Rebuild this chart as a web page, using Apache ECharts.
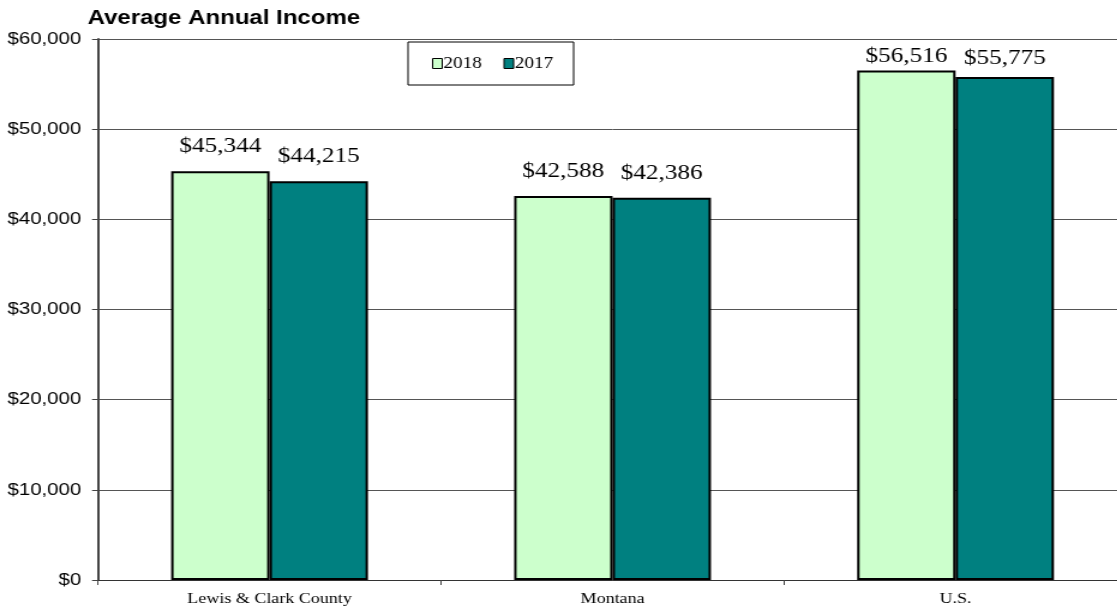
<!DOCTYPE html>
<html>
<head>
<meta charset="utf-8">
<script src="https://cdn.jsdelivr.net/npm/echarts@6/dist/echarts.min.js"></script>
<style>
  html, body { margin: 0; padding: 0; background: #fff; overflow: hidden; width: 1117px; height: 610px; }
  /* The chart is laid out on a narrower canvas and widened, giving the broad, stretched lettering */
  #chart { width: 960px; height: 610px; transform: scaleX(1.2); transform-origin: 0 0; }
</style>
</head>
<body>
<div id="chart"></div>
<script>
// Average annual income by area
const categories = ['Lewis & Clark County', 'Montana', 'U.S.'];
const income2018 = [45344, 42588, 56516];
const income2017 = [44215, 42386, 55775];
const yTicks = [0, 10000, 20000, 30000, 40000, 50000, 60000];

// Gap between bar top and its value label; tall bars keep their labels under the plot's top edge
const labelGap2018 = [14, 14, 3];
const labelGap2017 = [14, 14, 8];

const serif = '"Liberation Serif", "Times New Roman", serif';
const sans = '"Liberation Sans", Arial, sans-serif';

function money(v) {
  return '$' + Number(v).toLocaleString('en-US');
}

const labelStyle = {
  show: true,
  position: 'top',
  distance: 14,
  color: '#000',
  fontFamily: serif,
  fontSize: 21,
  formatter: p => money(p.value)
};

function barData(values, gaps) {
  return values.map((v, i) => ({ value: v, label: { distance: gaps[i] } }));
}

const chart = echarts.init(document.getElementById('chart'), null, { renderer: 'canvas' });

chart.setOption({
  animation: false,
  backgroundColor: '#fff',
  title: {
    text: 'Average Annual Income',
    left: 73,
    top: 8,
    padding: 0,
    textStyle: { fontFamily: sans, fontSize: 20, fontWeight: 'bold', color: '#000' }
  },
  legend: {
    data: ['2018', '2017'],
    left: 340,
    top: 42,
    padding: [13.5, 17, 13.5, 20],
    borderColor: '#000',
    borderWidth: 1,
    itemWidth: 8,
    itemHeight: 10,
    itemGap: 18,
    icon: 'rect',
    itemStyle: { borderColor: '#000', borderWidth: 1 },
    textStyle: { fontFamily: serif, fontSize: 16, color: '#000', padding: [0, 0, 0, -4] }
  },
  grid: {
    left: 81.7,
    top: 39,
    width: 857.5,
    height: 541,
    containLabel: false,
    outerBoundsMode: 'none'
  },
  xAxis: {
    type: 'category',
    data: categories,
    axisLine: { lineStyle: { color: '#333', width: 1 } },
    axisTick: { show: true, length: 5, lineStyle: { color: '#444' } },
    axisLabel: { fontFamily: serif, fontSize: 15, color: '#000', margin: 12 }
  },
  yAxis: {
    type: 'value',
    min: yTicks[0],
    max: yTicks[yTicks.length - 1],
    interval: 10000,
    axisLine: { show: true, lineStyle: { color: '#444', width: 2 } },
    axisTick: { show: true, inside: false, length: 5, lineStyle: { color: '#444' } },
    splitLine: { show: true, lineStyle: { color: '#555', width: 1 } },
    axisLabel: {
      fontFamily: sans,
      fontSize: 17,
      color: '#000',
      margin: 14,
      formatter: v => money(v)
    }
  },
  series: [
    {
      name: '2018',
      type: 'bar',
      data: barData(income2018, labelGap2018),
      barWidth: 82,
      barGap: '0%',
      itemStyle: { color: '#CCFFCC', borderColor: '#000', borderWidth: 2 },
      label: labelStyle
    },
    {
      name: '2017',
      type: 'bar',
      data: barData(income2017, labelGap2017),
      barWidth: 82,
      itemStyle: { color: '#008080', borderColor: '#000', borderWidth: 2 },
      label: labelStyle
    }
  ]
});
</script>
</body>
</html>
